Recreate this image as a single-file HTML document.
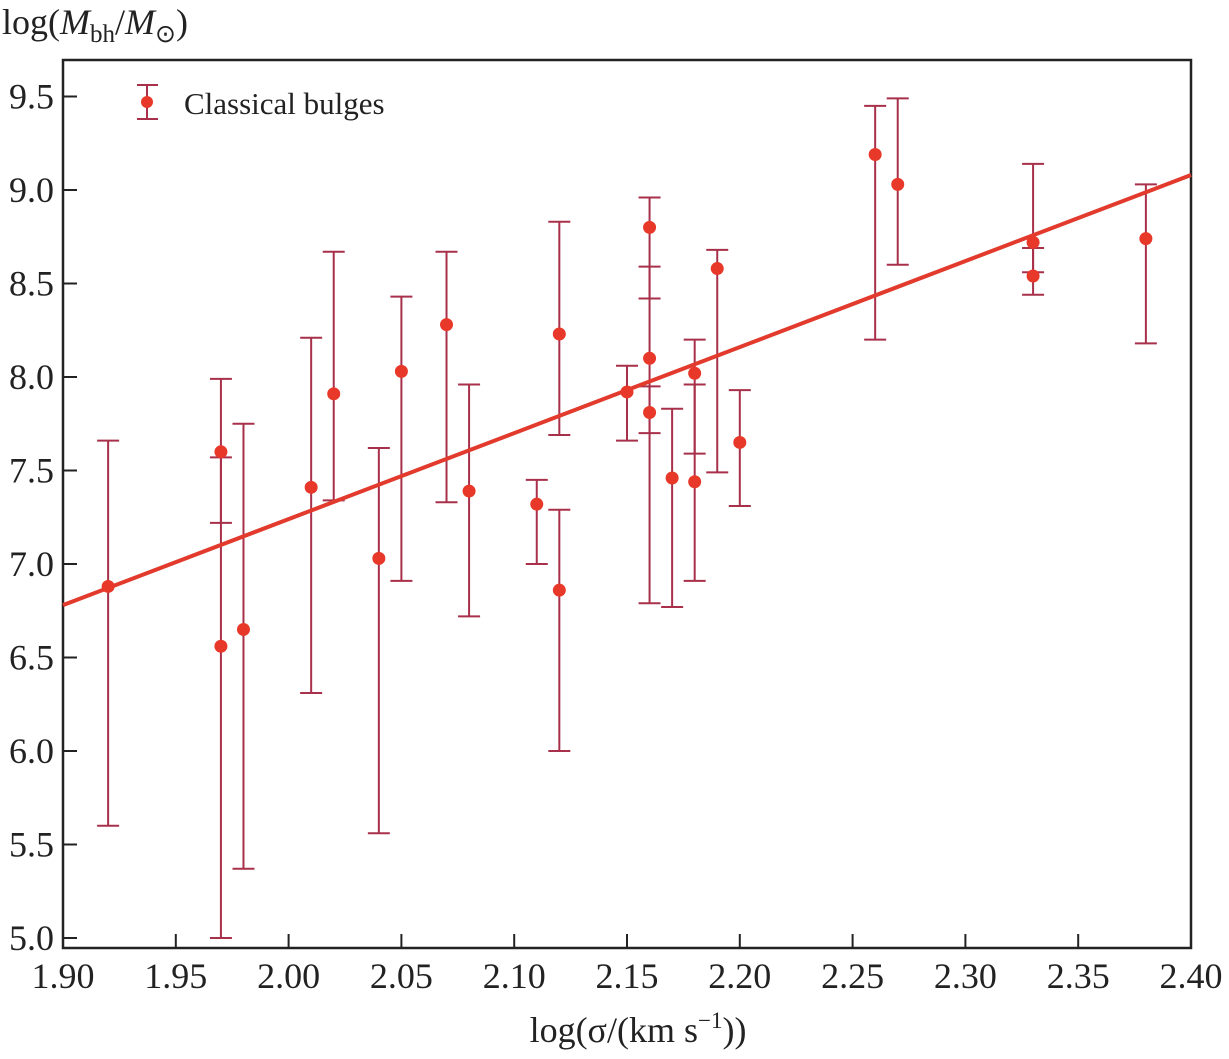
<!DOCTYPE html>
<html><head><meta charset="utf-8"><style>
body{margin:0;background:#fff}
svg text{font-family:"Liberation Serif","Times New Roman",serif;fill:#222}
</style></head><body>
<svg id="chart" width="1229" height="1054" xmlns="http://www.w3.org/2000/svg" font-family="Liberation Serif, serif">
<text x="2" y="34" font-size="36">log(<tspan font-style="italic">M</tspan><tspan font-size="25" dy="8">bh</tspan><tspan dy="-8">/</tspan><tspan font-style="italic">M</tspan><tspan font-size="25" dy="8">⊙</tspan><tspan dy="-8">)</tspan></text>
<text x="638" y="1042" font-size="36" text-anchor="middle">log(σ/(km s<tspan font-size="23" dy="-14">−1</tspan><tspan dy="14">))</tspan></text>
<g id="axes"></g><g id="marks"></g>
<g>
<line x1="147" y1="85" x2="147" y2="119" stroke="#a8304a" stroke-width="2"/>
<line x1="137" y1="85" x2="158" y2="85" stroke="#a8304a" stroke-width="2"/>
<line x1="137" y1="119" x2="158" y2="119" stroke="#a8304a" stroke-width="2"/>
<circle cx="147" cy="102" r="6" fill="#e8382a"/>
<text x="184" y="114" font-size="31">Classical bulges</text>
</g>
</svg>
<script>
const xTicks=[1.90,1.95,2.00,2.05,2.10,2.15,2.20,2.25,2.30,2.35,2.40];
const yTicks=[5.0,5.5,6.0,6.5,7.0,7.5,8.0,8.5,9.0,9.5];
const sigma=[1.92,1.97,1.97,1.98,2.01,2.02,2.04,2.05,2.07,2.08,2.11,2.12,2.12,2.15,2.16,2.16,2.16,2.17,2.18,2.18,2.19,2.20,2.26,2.27,2.33,2.33,2.38];
const mbh=[6.88,7.60,6.56,6.65,7.41,7.91,7.03,8.03,8.28,7.39,7.32,8.23,6.86,7.92,8.80,8.10,7.81,7.46,8.02,7.44,8.58,7.65,9.19,9.03,8.72,8.54,8.74];
const errLo=[5.60,7.22,5.00,5.37,6.31,7.34,5.56,6.91,7.33,6.72,7.00,7.69,6.00,7.66,8.42,7.70,6.79,6.77,7.59,6.91,7.49,7.31,8.20,8.60,8.56,8.44,8.18];
const errHi=[7.66,7.99,7.57,7.75,8.21,8.67,7.62,8.43,8.67,7.96,7.45,8.83,7.29,8.06,8.96,8.59,7.95,7.83,8.20,7.96,8.68,7.93,9.45,9.49,9.14,8.69,9.03];
const fitX=[1.90,2.40], fitY=[6.78,9.08];
const X=v=>63+(v-1.90)/0.05*112.8;
const Y=v=>938-(v-5.0)/0.5*93.5;
const NS='http://www.w3.org/2000/svg';
function mk(p,t,a){const e=document.createElementNS(NS,t);for(const k in a)e.setAttribute(k,a[k]);p.appendChild(e);return e;}
const axes=document.getElementById('axes'),marks=document.getElementById('marks');
const fr=mk(axes,'rect',{x:63,y:60,width:1128,height:888,fill:'none',stroke:'#222','stroke-width':2.5});


xTicks.forEach(v=>{
 const l=mk(axes,'line',{x1:X(v),x2:X(v),y1:948,y2:934,stroke:'#222','stroke-width':2});
 
 
 const t=mk(axes,'text',{x:X(v),y:988,'font-size':36,'text-anchor':'middle'});t.textContent=v.toFixed(2);
 
 
});
yTicks.forEach(v=>{
 const l=mk(axes,'line',{x1:63,x2:77,y1:Y(v),y2:Y(v),stroke:'#222','stroke-width':2});
 
 
 const t=mk(axes,'text',{x:54,y:Y(v)+12,'font-size':36,'text-anchor':'end'});t.textContent=v.toFixed(1);
 
 
});
sigma.forEach((s,i)=>{
 const g=mk(marks,'g',{});
 
 
 const x=X(s);
 mk(g,'line',{x1:x,x2:x,y1:Y(errLo[i]),y2:Y(errHi[i]),stroke:'#a8304a','stroke-width':2});
 mk(g,'line',{x1:x-11,x2:x+11,y1:Y(errLo[i]),y2:Y(errLo[i]),stroke:'#a8304a','stroke-width':2});
 mk(g,'line',{x1:x-11,x2:x+11,y1:Y(errHi[i]),y2:Y(errHi[i]),stroke:'#a8304a','stroke-width':2});
});
const fl=mk(marks,'line',{x1:X(fitX[0]),y1:Y(fitY[0]),x2:X(fitX[1]),y2:Y(fitY[1]),stroke:'#e23a2c','stroke-width':4});


sigma.forEach((s,i)=>{
 const c=mk(marks,'circle',{cx:X(s),cy:Y(mbh[i]),r:6.5,fill:'#e8382a'});
 
 
});
</script>
</body></html>
